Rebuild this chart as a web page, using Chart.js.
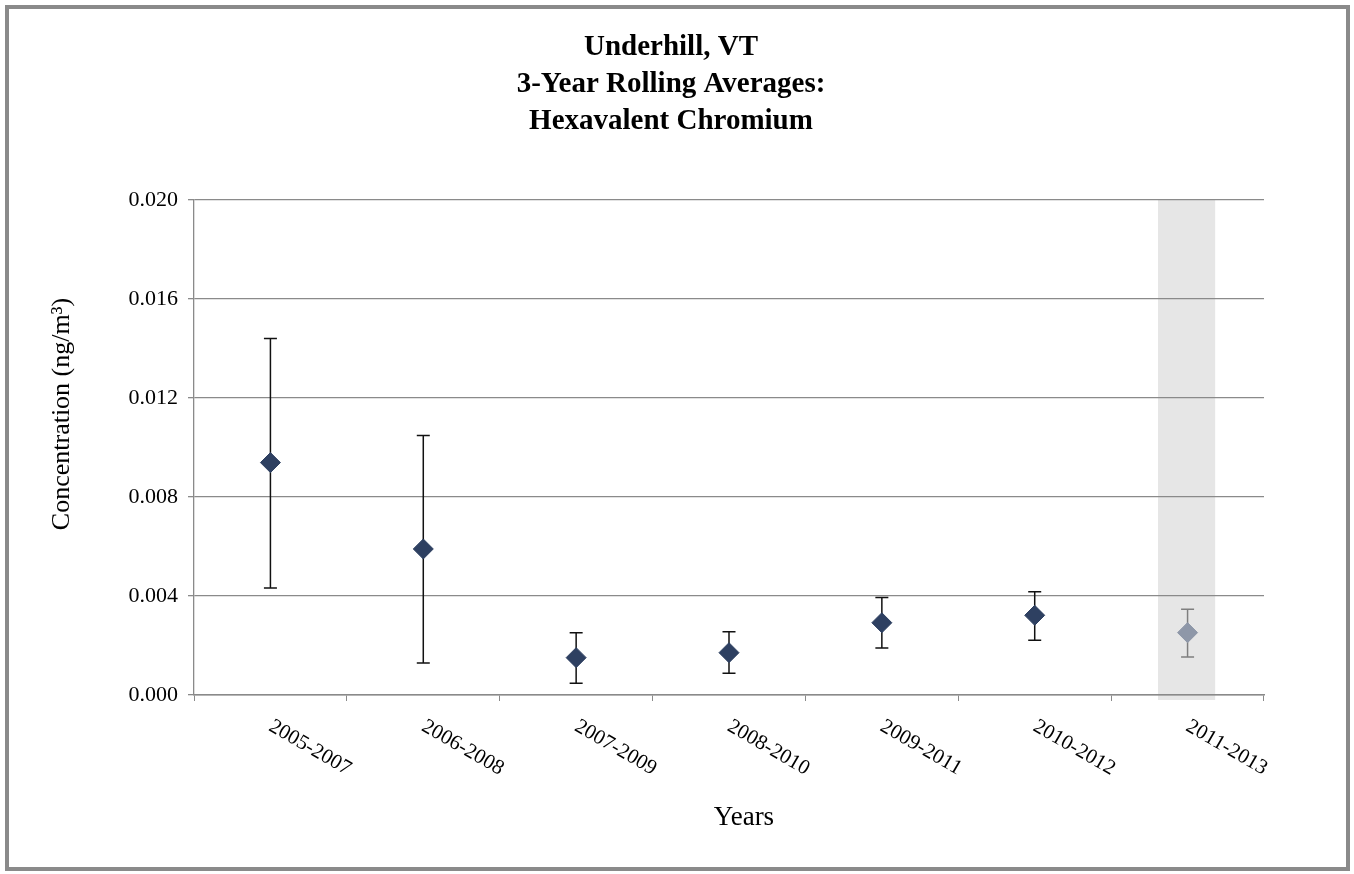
<!DOCTYPE html>
<html>
<head>
<meta charset="utf-8">
<script src="https://cdn.jsdelivr.net/npm/chart.js@4"></script>
<style>
  html, body { margin: 0; padding: 0; background: #fff; }
</style>
</head>
<body>
<canvas id="chart" width="1354" height="874"></canvas>
<script>
const categories = ['2005-2007', '2006-2008', '2007-2009', '2008-2010', '2009-2011', '2010-2012', '2011-2013'];
const averages = [0.00939, 0.0059, 0.00151, 0.00171, 0.00292, 0.00322, 0.00252];
const upperBounds = [0.0144, 0.01048, 0.00252, 0.00256, 0.00394, 0.00417, 0.00346];
const lowerBounds = [0.00432, 0.00129, 0.00047, 0.00088, 0.0019, 0.00221, 0.00154];
const shadedCategory = '2011-2013';
const yTicks = [0, 0.004, 0.008, 0.012, 0.016, 0.02];

const markerColor = '#2e4061';
const shadedMarkerColor = '#8e97a8';

Chart.defaults.font.family = '"Liberation Serif", "Times New Roman", serif';
Chart.defaults.color = '#000';

const extras = {
  id: 'extras',
  beforeDraw(chart) {
    const ctx = chart.ctx;
    const area = chart.chartArea;
    const x = chart.scales.x;
    ctx.save();
    // outer frame
    ctx.strokeStyle = '#8a8a8a';
    ctx.lineWidth = 4;
    ctx.strokeRect(7, 7, 1341, 862);
    // shaded column
    const i = categories.indexOf(shadedCategory);
    const cx = x.getPixelForValue(i);
    const half = (x.getPixelForValue(1) - x.getPixelForValue(0)) * 0.187;
    ctx.fillStyle = '#e6e6e6';
    ctx.fillRect(cx - half - 1, area.top, half * 2, area.bottom - area.top + 5);
    ctx.restore();
  },
  beforeDatasetsDraw(chart) {
    const ctx = chart.ctx;
    const x = chart.scales.x;
    const y = chart.scales.y;
    ctx.save();
    ctx.lineWidth = 1.5;
    categories.forEach((c, i) => {
      const px = x.getPixelForValue(i);
      const top = y.getPixelForValue(upperBounds[i]);
      const bot = y.getPixelForValue(lowerBounds[i]);
      ctx.strokeStyle = c === shadedCategory ? '#7f7f7f' : '#111';
      ctx.beginPath();
      ctx.moveTo(px, top); ctx.lineTo(px, bot);
      ctx.moveTo(px - 6.5, top); ctx.lineTo(px + 6.5, top);
      ctx.moveTo(px - 6.5, bot); ctx.lineTo(px + 6.5, bot);
      ctx.stroke();
    });
    ctx.restore();
  },
  afterDraw(chart) {
    const ctx = chart.ctx;
    const area = chart.chartArea;
    const x = chart.scales.x;
    ctx.save();
    ctx.fillStyle = '#000';
    // rotated category labels
    ctx.font = '21px "Liberation Serif", serif';
    ctx.textAlign = 'left';
    ctx.textBaseline = 'middle';
    categories.forEach((c, i) => {
      ctx.save();
      ctx.translate(x.getPixelForValue(i), area.bottom + 30);
      ctx.rotate(Math.PI / 6);
      ctx.fillText(c, 0, 0);
      ctx.restore();
    });
    // axis titles
    ctx.textAlign = 'center';
    ctx.font = '27px "Liberation Serif", serif';
    ctx.fillText('Years', 744, 818);
    ctx.font = '26px "Liberation Serif", serif';
    ctx.save();
    ctx.translate(62, 414);
    ctx.rotate(-Math.PI / 2);
    ctx.fillText('Concentration (ng/m\u00B3)', 0, 0);
    ctx.restore();
    ctx.restore();
  }
};

const ctx = document.getElementById('chart').getContext('2d');
new Chart(ctx, {
  type: 'line',
  data: {
    labels: categories,
    datasets: [{
      label: 'Hexavalent Chromium',
      data: averages,
      showLine: false,
      pointStyle: 'rectRot',
      pointRadius: 10,
      pointBorderWidth: 1,
      pointBackgroundColor: categories.map(c => c === shadedCategory ? shadedMarkerColor : markerColor),
      pointBorderColor: categories.map(c => c === shadedCategory ? shadedMarkerColor : markerColor)
    }]
  },
  options: {
    responsive: false,
    animation: false,
    layout: { padding: { left: 78, right: 90, top: 0, bottom: 20 } },
    scales: {
      x: {
        offset: true,
        ticks: { display: false },
        grid: { display: true, offset: true, drawOnChartArea: false, drawTicks: true, tickLength: 6, color: '#8a8a8a' },
        border: { color: '#8a8a8a', width: 1.5 },
        afterFit: s => { s.height = 159; }
      },
      y: {
        min: 0,
        max: 0.02,
        afterBuildTicks: s => { s.ticks = yTicks.map(v => ({ value: v })); },
        ticks: { font: { size: 22 }, padding: 10, callback: v => v.toFixed(3) },
        grid: { color: '#8a8a8a', lineWidth: 1.3, tickLength: 6 },
        border: { color: '#8a8a8a', width: 1.3 },
        afterFit: s => { s.width = 116; }
      }
    },
    plugins: {
      legend: { display: false },
      tooltip: { enabled: false },
      title: {
        display: true,
        text: ['Underhill, VT', '3-Year Rolling Averages:', 'Hexavalent Chromium'],
        font: { size: 29, weight: 'bold', lineHeight: '37px' },
        padding: { top: 29.5, bottom: 59.5 }
      }
    }
  },
  plugins: [extras]
});
</script>
</body>
</html>
